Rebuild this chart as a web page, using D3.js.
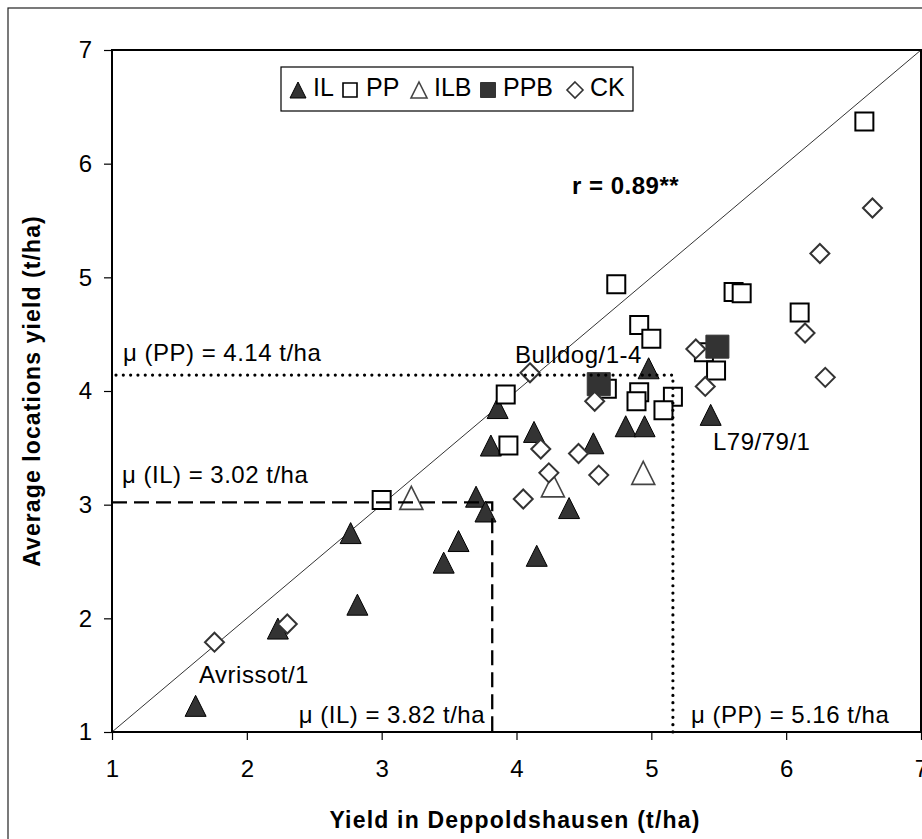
<!DOCTYPE html>
<html>
<head>
<meta charset="utf-8">
<script src="https://cdn.jsdelivr.net/npm/d3@7"></script>
<style>
  html, body { margin: 0; padding: 0; background: #fff; }
  svg { display: block; font-family: "Liberation Sans", Arial, sans-serif; }
</style>
</head>
<body>
<svg id="chart" width="922" height="839"></svg>
<script>
// Yield of each entry in Deppoldshausen (x) vs. mean across locations (y), t/ha
const ilX  = [1.62, 2.23, 2.77, 2.82, 3.46, 3.57, 3.70, 3.77, 3.81, 3.86, 4.13, 4.15, 4.39, 4.57, 4.81, 4.95, 4.98, 5.44];
const ilY  = [1.23, 1.91, 2.75, 2.12, 2.49, 2.68, 3.07, 2.94, 3.52, 3.85, 3.64, 2.55, 2.97, 3.54, 3.69, 3.69, 4.20, 3.79];
const ppX  = [3.00, 3.92, 3.94, 4.74, 4.91, 5.00, 4.67, 4.91, 4.89, 5.16, 5.09, 5.39, 5.48, 5.61, 5.67, 6.10, 6.58];
const ppY  = [3.04, 3.97, 3.52, 4.94, 4.58, 4.46, 4.02, 3.99, 3.91, 3.95, 3.83, 4.34, 4.18, 4.87, 4.86, 4.69, 6.37];
const ilbX = [3.22, 4.27, 4.94];
const ilbY = [3.06, 3.17, 3.28];
const ppbX = [4.61, 5.49];
const ppbY = [4.06, 4.39];
const ckX  = [1.76, 2.30, 4.05, 4.10, 4.18, 4.24, 4.46, 4.58, 4.61, 5.33, 5.40, 6.14, 6.25, 6.29, 6.64];
const ckY  = [1.79, 1.95, 3.05, 4.16, 3.49, 3.28, 3.45, 3.91, 3.26, 4.37, 4.04, 4.51, 5.21, 4.12, 5.61];

const seriesNames = ["IL", "PP", "ILB", "PPB", "CK"];
const tickValues = [1, 2, 3, 4, 5, 6, 7];

// group means (t/ha)
const meanIL_x = 3.82, meanIL_y = 3.02;
const meanPP_x = 5.16, meanPP_y = 4.14;

// named entries
const labelNames = ["Avrissot/1", "Bulldog/1-4", "L79/79/1"];
const corrLabel = "r = 0.89**";

const svg = d3.select("#chart");
const plot = { left: 112, right: 921, top: 50, bottom: 732 };

const x = d3.scaleLinear().domain([1, 7]).range([plot.left, plot.right]);
const y = d3.scaleLinear().domain([1, 7]).range([plot.bottom, plot.top]);

// outer chart frame
svg.append("rect")
  .attr("x", 8).attr("y", 8).attr("width", 1000).attr("height", 1000)
  .attr("fill", "#fff").attr("stroke", "#222").attr("stroke-width", 1.2);

// marker shapes, centred on their bounding box
function shapePath(kind, s) {
  const h = s / 2;
  if (kind === "tri") return `M0,${-h}L${h},${h}L${-h},${h}Z`;
  if (kind === "sq") return `M${-h},${-h}H${h}V${h}H${-h}Z`;
  return `M0,${-h}L${h},0L0,${h}L${-h},0Z`;
}
const styles = {
  IL:  { kind: "tri", size: 21, fill: "#333", stroke: "#000", sw: 1 },
  PP:  { kind: "sq",  size: 18, fill: "#fff", stroke: "#000", sw: 2 },
  ILB: { kind: "tri", size: 23, fill: "#fff", stroke: "#444", sw: 1.6 },
  PPB: { kind: "sq",  size: 23, fill: "#333", stroke: "#333", sw: 1 },
  CK:  { kind: "dia", size: 19, fill: "#fff", stroke: "#333", sw: 2 }
};

// 1:1 line
svg.append("line")
  .attr("x1", x(1)).attr("y1", y(1)).attr("x2", x(7)).attr("y2", y(7))
  .attr("stroke", "#333").attr("stroke-width", 1);

// axes
const xAxis = svg.append("g")
  .attr("transform", `translate(0,${plot.bottom})`)
  .call(d3.axisBottom(x).tickValues(tickValues).tickFormat(d3.format("d")).tickSize(8).tickPadding(20));
const yAxis = svg.append("g")
  .attr("transform", `translate(${plot.left},0)`)
  .call(d3.axisLeft(y).tickValues(tickValues).tickFormat(d3.format("d")).tickSize(8).tickPadding(12));
[xAxis, yAxis].forEach(g => {
  g.select(".domain").remove();
  g.selectAll(".tick line").attr("stroke", "#000").attr("stroke-width", 1.2);
  g.selectAll(".tick text").attr("fill", "#000")
    .style("font-size", "24px").style("font-family", "'Liberation Sans', Arial, sans-serif");
});

// plot area border
svg.append("rect")
  .attr("x", plot.left).attr("y", plot.top)
  .attr("width", plot.right - plot.left).attr("height", plot.bottom - plot.top)
  .attr("fill", "none").attr("stroke", "#000").attr("stroke-width", 2);

// data markers
const seriesData = {
  IL:  ilX.map((v, i) => [v, ilY[i]]),
  PP:  ppX.map((v, i) => [v, ppY[i]]),
  ILB: ilbX.map((v, i) => [v, ilbY[i]]),
  PPB: ppbX.map((v, i) => [v, ppbY[i]]),
  CK:  ckX.map((v, i) => [v, ckY[i]])
};
seriesNames.forEach(name => {
  const st = styles[name];
  svg.append("g").selectAll("path")
    .data(seriesData[name])
    .join("path")
    .attr("d", shapePath(st.kind, st.size))
    .attr("transform", d => `translate(${x(d[0])},${y(d[1])})`)
    .attr("fill", st.fill).attr("stroke", st.stroke).attr("stroke-width", st.sw)
    .attr("stroke-linejoin", "miter");
});

// mean lines
svg.append("path")
  .attr("d", `M${x(1)},${y(meanIL_y)}H${x(meanIL_x)}V${y(1)}`)
  .attr("fill", "none").attr("stroke", "#000").attr("stroke-width", 2.3)
  .attr("stroke-dasharray", "15,7");
svg.append("path")
  .attr("d", `M${x(1) + 4},${y(meanPP_y)}H${x(meanPP_x)}V${y(1)}`)
  .attr("fill", "none").attr("stroke", "#000").attr("stroke-width", 3.2)
  .attr("stroke-linecap", "round")
  .attr("stroke-dasharray", "0.01,7.3");

// text annotations
function note(txt, px, py, opts = {}) {
  return svg.append("text")
    .attr("x", px).attr("y", py)
    .attr("text-anchor", opts.anchor || "start")
    .style("font-size", (opts.size || 24) + "px")
    .style("font-weight", opts.bold ? "bold" : "normal")
    .style("letter-spacing", (opts.ls != null ? opts.ls : 0.5) + "px")
    .attr("fill", "#000")
    .text(txt);
}
note(`μ (PP) = ${meanPP_y.toFixed(2)} t/ha`, 123, 361);
note(`μ (IL) = ${meanIL_y.toFixed(2)} t/ha`, 122, 483);
note(`μ (IL) = ${meanIL_x.toFixed(2)} t/ha`, 485, 723, { anchor: "end" });
note(`μ (PP) = ${meanPP_x.toFixed(2)} t/ha`, 691, 723);
note(labelNames[0], 199, 683);
note(labelNames[1], 515, 363);
note(labelNames[2], 713, 450);
note(corrLabel, 572, 194, { bold: true });

// axis titles
note("Yield in Deppoldshausen (t/ha)", 515, 828, { anchor: "middle", bold: true, size: 23, ls: 1.2 });
svg.append("text")
  .attr("transform", "translate(40,391) rotate(-90)")
  .attr("text-anchor", "middle")
  .style("font-size", "23px").style("font-weight", "bold").style("letter-spacing", "1.1px")
  .attr("fill", "#000")
  .text("Average locations yield (t/ha)");

// legend
const lg = svg.append("g").attr("transform", "translate(281,67)");
lg.append("rect").attr("width", 352).attr("height", 44)
  .attr("fill", "#fff").attr("stroke", "#000").attr("stroke-width", 1.2);
const legendItems = [
  { name: "IL",  mx: 17,  tx: 32,  size: 16 },
  { name: "PP",  mx: 69,  tx: 85,  size: 14 },
  { name: "ILB", mx: 138, tx: 153, size: 16 },
  { name: "PPB", mx: 207, tx: 222, size: 15 },
  { name: "CK",  mx: 294, tx: 309, size: 16 }
];
legendItems.forEach(it => {
  const st = styles[it.name];
  lg.append("path")
    .attr("d", shapePath(st.kind, it.size))
    .attr("transform", `translate(${it.mx},23)`)
    .attr("fill", st.fill).attr("stroke", st.stroke)
    .attr("stroke-width", Math.min(st.sw, 1.6));
  lg.append("text")
    .attr("x", it.tx).attr("y", 29)
    .style("font-size", "25px")
    .attr("fill", "#000")
    .text(it.name);
});
</script>
</body>
</html>
